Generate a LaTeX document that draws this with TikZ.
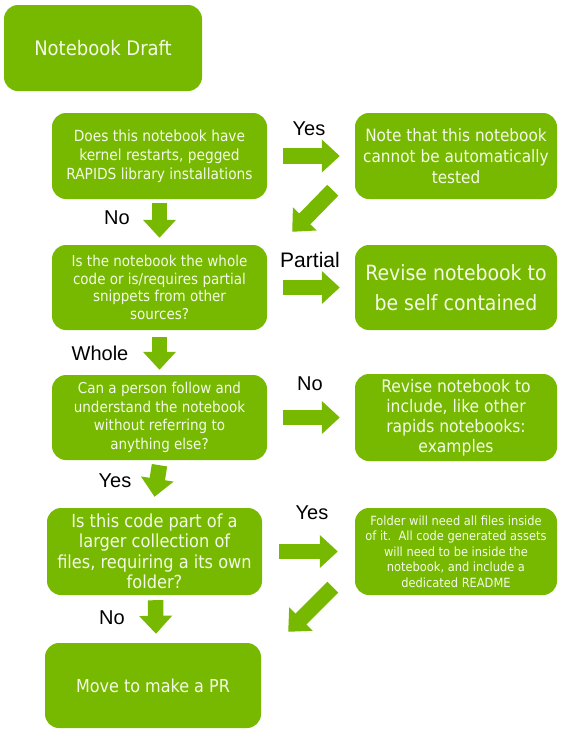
\documentclass[tikz,border=0pt]{standalone}
\usepackage{fontspec}
\setmainfont{DejaVu Sans Condensed}
\newfontfamily\labelfont{Liberation Sans}
\usetikzlibrary{arrows.meta}
\definecolor{nvgreen}{HTML}{76B900}
\definecolor{boxtext}{HTML}{F4FAE8}
\begin{document}
\begin{tikzpicture}[x=1pt,y=-1pt,
  box/.style={fill=nvgreen, rounded corners=14pt, text=boxtext, align=center, inner sep=0pt},
  lbox/.style={box, minimum width=215pt},
  rbox/.style={box, minimum width=202pt},
  lbl/.style={font=\labelfont\fontsize{20}{24}\selectfont, text=black, inner sep=0pt},
  barrow/.style={draw=nvgreen, line width=15.5pt, -{Triangle[length=18pt,width=32pt]}},
]
\useasboundingbox (0,0) rectangle (577,734);

% boxes
\node[box, minimum width=198pt, minimum height=86pt, font=\fontsize{20}{24}\selectfont] (draft) at (103,48) {Notebook Draft};

\node[lbox, minimum height=86pt, font=\fontsize{15.3}{19}\selectfont] (q1) at (159.5,156)
  {Does this notebook have\\kernel restarts, pegged\\RAPIDS library installations};
\node[rbox, minimum height=86pt, font=\fontsize{17}{21}\selectfont] (note) at (456,156)
  {Note that this notebook\\cannot be automatically\\tested};

\node[lbox, minimum height=85pt, font=\fontsize{15}{17.5}\selectfont] (q2) at (159.5,287.5)
  {Is the notebook the whole\\code or is/requires partial\\snippets from other\\sources?};
\node[rbox, minimum height=85pt, font=\fontsize{21}{30}\selectfont] (rev1) at (456,287.5)
  {Revise notebook to\\be self contained};

\node[lbox, minimum height=85pt, font=\fontsize{15}{18.5}\selectfont] (q3) at (159.5,417.5)
  {Can a person follow and\\understand the notebook\\without referring to\\anything else?};
\node[rbox, minimum height=87pt, font=\fontsize{17.3}{20}\selectfont] (rev2) at (456,417.5)
  {Revise notebook to\\include, like other\\rapids notebooks:\\examples};

\node[lbox, minimum height=87pt, font=\fontsize{18}{20.5}\selectfont] (q4) at (154.5,551.5)
  {Is this code part of a\\larger collection of\\files, requiring a its own\\folder?};
\node[rbox, minimum height=87pt, font=\fontsize{12.7}{15.5}\selectfont] (folder) at (456,551.5)
  {Folder will need all files inside\\of it.\ \ All code generated assets\\will need to be inside the\\notebook, and include a\\dedicated README};

\node[box, minimum width=216pt, minimum height=85pt, font=\fontsize{17.8}{20}\selectfont] (pr) at (153,685.5)
  {Move to make a PR};

% horizontal arrows
\draw[barrow] ([xshift=16pt]q1.east) -- ([xshift=-15pt]note.west);
\draw[barrow] ([xshift=16pt]q2.east) -- ([xshift=-15pt]rev1.west);
\draw[barrow] ([xshift=16pt]q3.east) -- ([xshift=-15pt]rev2.west);
\draw[barrow] ([xshift=17pt]q4.east) -- ([xshift=-17pt]folder.west);

% vertical arrows
\draw[barrow] ([yshift=-4pt]q1.south) -- ([yshift=7pt]q2.north);
\draw[barrow] ([yshift=-7pt]q2.south) -- ([yshift=5pt]q3.north);
\draw[barrow] ([yshift=-5pt]q3.south) -- ([yshift=11pt]q4.north);
\draw[barrow] ([xshift=1pt,yshift=-5pt]q4.south) -- ([xshift=3pt,yshift=9pt]pr.north);

% diagonal arrows
\draw[barrow] ([xshift=-22pt,yshift=9pt]note.south west) -- ([xshift=25pt,yshift=13pt]q2.north east);
\draw[barrow] ([xshift=-22pt,yshift=8pt]folder.south west) -- ([xshift=27pt,yshift=11pt]pr.north east);

% labels
\node[lbl] (l1) at (309,129) {Yes};
\node[lbl] (l2) at (117,218) {No};
\node[lbl, font=\labelfont\fontsize{21}{24}\selectfont] (l3) at (310,260) {Partial};
\node[lbl] (l4) at (100,353) {Whole};
\node[lbl] (l5) at (310,384) {No};
\node[lbl] (l6) at (115,481) {Yes};
\node[lbl] (l7) at (312,513) {Yes};
\node[lbl] (l8) at (112,618) {No};
\end{tikzpicture}
\end{document}
